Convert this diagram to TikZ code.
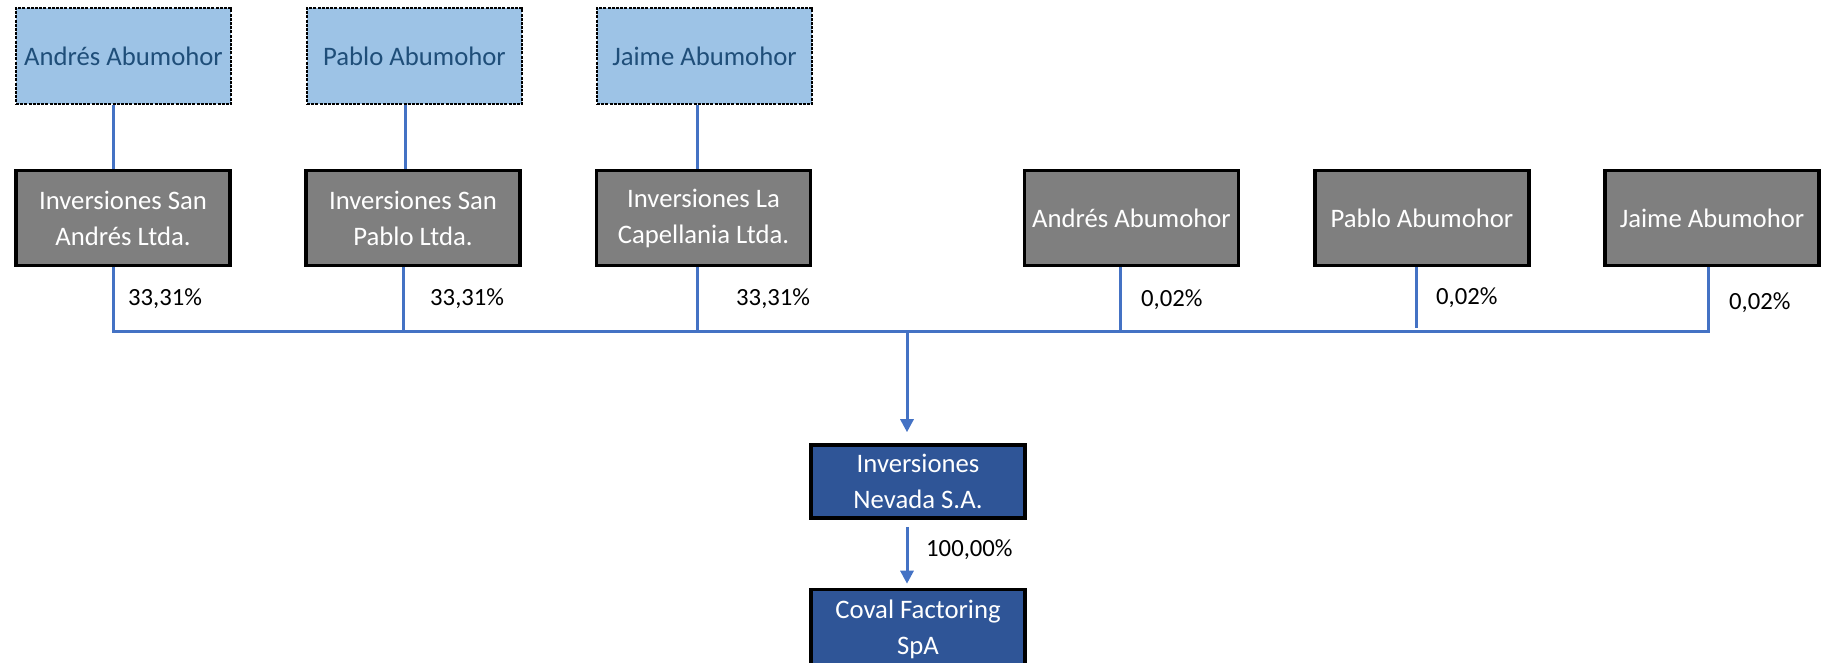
\documentclass[tikz,border=0pt]{standalone}
\usepackage{fontspec}
\setmainfont{Carlito}
\usetikzlibrary{arrows.meta}
\definecolor{lightfill}{RGB}{157,195,230}
\definecolor{lighttext}{RGB}{31,78,121}
\definecolor{grayfill}{RGB}{127,127,127}
\definecolor{navyfill}{RGB}{47,85,151}
\definecolor{linkblue}{RGB}{68,114,196}
\tikzset{
  x=1pt, y=-1pt,
  personbox/.style={draw=black, fill=lightfill, line width=1.6pt, dash pattern=on 3pt off 1.2pt,
    minimum width=215pt, minimum height=96pt, inner sep=0pt, text=lighttext,
    font=\fontsize{26.7}{36}\selectfont, align=center},
  holdbox/.style={draw=black, fill=grayfill, line width=3.6pt,
    minimum width=214pt, minimum height=95pt, inner sep=0pt, text=white,
    font=\fontsize{26.7}{36}\selectfont, align=center},
  navybox/.style={draw=black, fill=navyfill, line width=3.6pt,
    minimum width=214pt, inner sep=0pt, text=white,
    font=\fontsize{26.7}{36}\selectfont, align=center},
  link/.style={draw=linkblue, line width=3pt},
  arrowlink/.style={link, -{Triangle[length=13pt,width=13pt]}},
  pct/.style={anchor=west, inner sep=0pt, font=\fontsize{24.7}{30}\selectfont}
}
\begin{document}
\begin{tikzpicture}
\useasboundingbox (0,0) rectangle (1821,662);
\clip (0,0) rectangle (1821,662);
% top row
\node[personbox] (pa) at (123.5,56) {Andrés Abumohor};
\node[personbox] (pp) at (414.5,56) {Pablo Abumohor};
\node[personbox] (pj) at (704.5,56) {Jaime Abumohor};
% holding row
\node[holdbox] (ia) at (123,218) {Inversiones San\\Andrés Ltda.};
\node[holdbox] (ip) at (413,218) {Inversiones San\\Pablo Ltda.};
\node[holdbox] (ic) at (703.5,218) {Inversiones La\\Capellania Ltda.};
\node[holdbox] (da) at (1131.5,218) {Andrés Abumohor};
\node[holdbox] (dp) at (1422,218) {Pablo Abumohor};
\node[holdbox] (dj) at (1712,218) {Jaime Abumohor};
% bottom
\node[navybox, minimum height=73pt] (nv) at (918,481.5) {Inversiones\\Nevada S.A.};
\node[navybox, minimum height=80pt] (cf) at (918,629.5) {Coval Factoring\\SpA};
% bus coordinates
\coordinate (b1) at (113,331);
\coordinate (b2) at (403,331);
\coordinate (b3) at (697,331);
\coordinate (b4) at (1120,331);
\coordinate (b5) at (1416,331);
\coordinate (b6) at (1708,331);
\coordinate (bn) at (907,331);
% person to holding
\draw[link] (pa.south -| 113,0) -- (ia.north -| 113,0);
\draw[link] (pp.south -| 405,0) -- (ip.north -| 405,0);
\draw[link] (pj.south -| 697,0) -- (ic.north -| 697,0);
% holdings to bus
\draw[link] (ia.south -| b1) -- (b1);
\draw[link] (ip.south -| b2) -- (b2);
\draw[link] (ic.south -| b3) -- (b3);
\draw[link] (da.south -| b4) -- (b4);
\draw[link] (dp.south -| b5) -- ([yshift=3pt]b5);
\draw[link] (dj.south -| b6) -- (b6);
\draw[link, line cap=rect] (b1) -- (b6);
% arrows
\draw[arrowlink, shorten >=11pt] (bn) -- (nv.north -| bn);
\draw[arrowlink, shorten <=7pt, shorten >=4pt] (nv.south -| bn) -- (cf.north -| bn);
% labels
\node[pct] (l1) at (128,299) {33,31\%};
\node[pct] (l2) at (430,299) {33,31\%};
\node[pct] (l3) at (736,299) {33,31\%};
\node[pct] (l4) at (1141,300) {0,02\%};
\node[pct] (l5) at (1436,298) {0,02\%};
\node[pct] (l6) at (1729,303) {0,02\%};
\node[pct] (l7) at (926,550) {100,00\%};
\end{tikzpicture}
\end{document}
